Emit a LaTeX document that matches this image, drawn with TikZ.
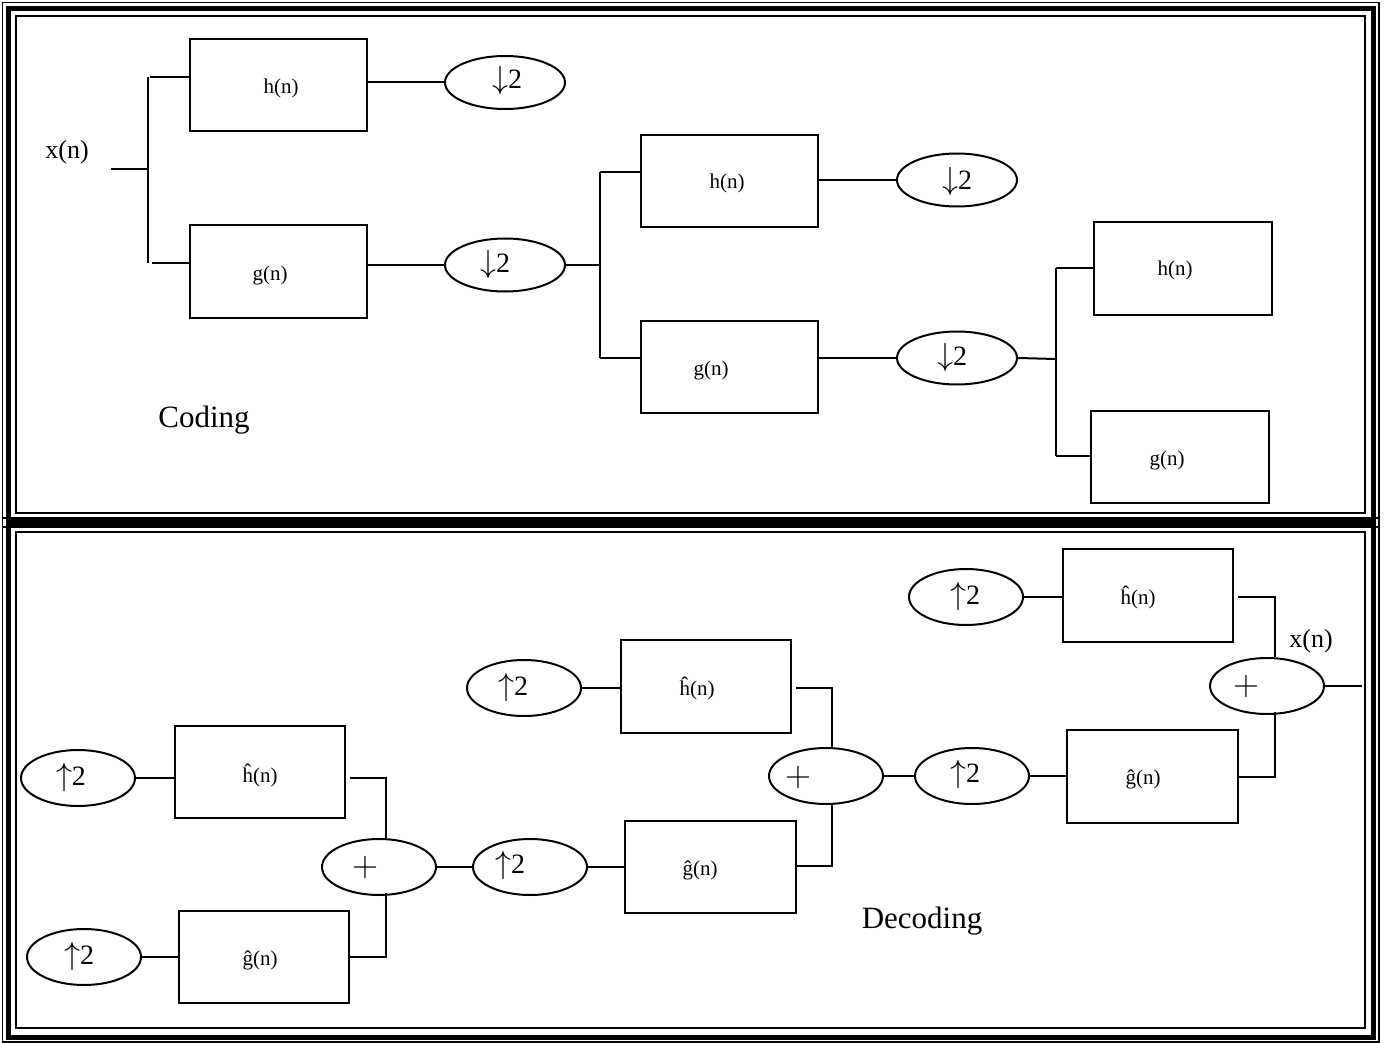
\RequirePackage{fix-cm}
\documentclass[tikz,border=0pt]{standalone}
\usepackage{fontspec}
\setmainfont{Liberation Serif}
\usetikzlibrary{shapes.geometric}
\newcommand{\dnarr}{{\fontsize{32}{34}\selectfont$\downarrow$}2}
\newcommand{\uparr}{{\fontsize{32}{34}\selectfont$\uparrow$}2}
\tikzset{
  wire/.style={line width=2pt},
  fbox/.style={draw, line width=2pt, rectangle, inner sep=0pt},
  downell/.style={draw, line width=2pt, ellipse, inner sep=0pt, minimum width=120pt, minimum height=53pt},
  upell/.style={draw, line width=2pt, ellipse, inner sep=0pt, minimum width=114pt, minimum height=56pt},
  boxtxt/.style={inner sep=0pt, font=\fontsize{21}{24}\selectfont},
  optxt/.style={inner sep=0pt, font=\fontsize{28}{32}\selectfont},
  plustxt/.style={inner sep=0pt, font=\fontsize{36}{40}\selectfont},
  bigtxt/.style={inner sep=0pt, font=\fontsize{31}{34}\selectfont},
  sigtxt/.style={inner sep=0pt, font=\fontsize{26}{30}\selectfont},
  thinframe/.style={line width=1.6pt},
  thickframe/.style={line width=5pt}
}
\begin{document}
\begin{tikzpicture}[x=1pt,y=-1pt]
\useasboundingbox (0,0) rectangle (1384,1043);
% ---------- frames ----------
\draw[thinframe] (2.5,2.5) rectangle (1379,527);
\draw[thickframe] (8.5,8.5) rectangle (1373.5,521);
\draw[thinframe] (16,16) rectangle (1365,513);
\draw[thinframe] (2.5,518) rectangle (1379,1042);
\draw[thickframe] (8.5,524.5) rectangle (1373.5,1037);
\draw[thinframe] (16,532) rectangle (1365,1028);

% ================= CODING =================
\node[sigtxt] (xin) at (67,152) {x(n)};
\node[bigtxt] (coding) at (204,420) {Coding};

\node[fbox, minimum width=177pt, minimum height=92pt] (h1) at (278.5,85) {};
\node[boxtxt] (h1t) at (281,88) {h(n)};
\node[fbox, minimum width=177pt, minimum height=93pt] (g1) at (278.5,271.5) {};
\node[boxtxt] (g1t) at (270,275) {g(n)};
\node[fbox, minimum width=177pt, minimum height=92pt] (h2) at (729.5,181) {};
\node[boxtxt] (h2t) at (727,183) {h(n)};
\node[fbox, minimum width=177pt, minimum height=92pt] (g2) at (729.5,367) {};
\node[boxtxt] (g2t) at (711,370) {g(n)};
\node[fbox, minimum width=178pt, minimum height=93pt] (h3) at (1183,268.5) {};
\node[boxtxt] (h3t) at (1175,270) {h(n)};
\node[fbox, minimum width=178pt, minimum height=92pt] (g3) at (1180,457) {};
\node[boxtxt] (g3t) at (1167,460) {g(n)};

\node[downell] (d1) at (505,82.5) {};
\node[optxt] (d1t) at (507,81) {\dnarr};
\node[downell] (d2) at (505,265) {};
\node[optxt] (d2t) at (495,264) {\dnarr};
\node[downell] (d3) at (957,180) {};
\node[optxt] (d3t) at (957,182) {\dnarr};
\node[downell] (d4) at (957,358) {};
\node[optxt] (d4t) at (952,357) {\dnarr};

\coordinate (in0) at (111,169);
\coordinate (b1m) at (148,169);
\coordinate (b1t) at (148,77);
\coordinate (b1b) at (148,263);
\draw[wire] (in0) -- (b1m);
\draw[wire] (b1t) -- (b1b);
\draw[wire] ([xshift=2pt]b1t) -- (b1t -| h1.west);
\draw[wire] ([xshift=4pt]b1b) -- (b1b -| g1.west);
\draw[wire] (d1.west -| h1.east) -- (d1.west);
\draw[wire] (d2.west -| g1.east) -- (d2.west);

\coordinate (b2m) at (600,265);
\coordinate (b2t) at (600,172);
\coordinate (b2b) at (600,358);
\draw[wire] (d2.east) -- (b2m);
\draw[wire] (b2t) -- (b2b);
\draw[wire] (b2t) -- (b2t -| h2.west);
\draw[wire] (b2b) -- (b2b -| g2.west);
\draw[wire] (d3.west -| h2.east) -- (d3.west);
\draw[wire] (d4.west -| g2.east) -- (d4.west);

\coordinate (b3m) at (1056,359);
\coordinate (b3t) at (1056,268);
\coordinate (b3b) at (1056,456);
\draw[wire] (d4.east) -- (b3m);
\draw[wire] (b3t) -- (b3b);
\draw[wire] (b3t) -- (b3t -| h3.west);
\draw[wire] (b3b) -- (b3b -| g3.west);

% ================= DECODING =================
\node[bigtxt] (decoding) at (922,921) {Decoding};
\node[sigtxt] (xout) at (1311,641) {x(n)};

\node[fbox, minimum width=170pt, minimum height=92pt] (bh1) at (260,772) {};
\node[boxtxt] (bh1t) at (260,776) {ĥ(n)};
\node[fbox, minimum width=170pt, minimum height=92pt] (bg1) at (264,957) {};
\node[boxtxt] (bg1t) at (260,960) {ĝ(n)};
\node[fbox, minimum width=170pt, minimum height=93pt] (bh2) at (706,686.5) {};
\node[boxtxt] (bh2t) at (697,689) {ĥ(n)};
\node[fbox, minimum width=171pt, minimum height=92pt] (bg2) at (710.5,867) {};
\node[boxtxt] (bg2t) at (700,870) {ĝ(n)};
\node[fbox, minimum width=170pt, minimum height=93pt] (bh3) at (1148,595.5) {};
\node[boxtxt] (bh3t) at (1138,598) {ĥ(n)};
\node[fbox, minimum width=171pt, minimum height=93pt] (bg3) at (1152.5,776.5) {};
\node[boxtxt] (bg3t) at (1143,779) {ĝ(n)};

\node[upell] (u1) at (78,778) {};
\node[optxt] (u1t) at (71,777) {\uparr};
\node[upell] (u2) at (84,957) {};
\node[optxt] (u2t) at (79,956) {\uparr};
\node[upell] (u3) at (530,867) {};
\node[optxt] (u3t) at (510,865) {\uparr};
\node[upell] (u4) at (524,688) {};
\node[optxt] (u4t) at (513,687) {\uparr};
\node[upell] (u5) at (972,776) {};
\node[optxt] (u5t) at (965,774) {\uparr};
\node[upell] (u6) at (966,597) {};
\node[optxt] (u6t) at (965,596) {\uparr};

\node[upell] (p1) at (379,867) {};
\node[plustxt] (p1t) at (365,867) {$+$};
\node[upell] (p2) at (826,776) {};
\node[plustxt] (p2t) at (798,777) {$+$};
\node[upell] (p3) at (1267,686) {};
\node[plustxt] (p3t) at (1246,686) {$+$};

% connections
\draw[wire] (u1.east) -- (u1.east -| bh1.west);
\draw[wire] (u2.east) -- (u2.east -| bg1.west);
\coordinate (j1) at (386,778);
\coordinate (j2) at (386,957);
\draw[wire] ([xshift=4pt]bh1.east |- j1) -- (j1) -- (j1 |- p1.north);
\draw[wire] (bg1.east |- j2) -- (j2) -- ([yshift=3pt]j2 |- p1.south);
\draw[wire] (p1.east) -- (u3.west);
\draw[wire] (u3.east) -- (u3.east -| bg2.west);
\draw[wire] (u4.east) -- (u4.east -| bh2.west);

\coordinate (j3) at (832,688);
\coordinate (j4) at (832,866);
\draw[wire] ([xshift=4pt]bh2.east |- j3) -- (j3) -- (j3 |- p2.north);
\draw[wire] (bg2.east |- j4) -- (j4) -- ([yshift=2pt]j4 |- p2.south);
\draw[wire] (p2.east) -- (u5.west);
\draw[wire] (u5.east) -- (u5.east -| bg3.west);
\draw[wire] (u6.east) -- (u6.east -| bh3.west);

\coordinate (j5) at (1275,597);
\coordinate (j6) at (1275,777);
\draw[wire] ([xshift=4pt]bh3.east |- j5) -- (j5) -- (j5 |- p3.north);
\draw[wire] (bg3.east |- j6) -- (j6) -- ([yshift=3pt]j6 |- p3.south);
\coordinate (outend) at (1362,686);
\draw[wire] (p3.east) -- (outend);
\end{tikzpicture}
\end{document}
